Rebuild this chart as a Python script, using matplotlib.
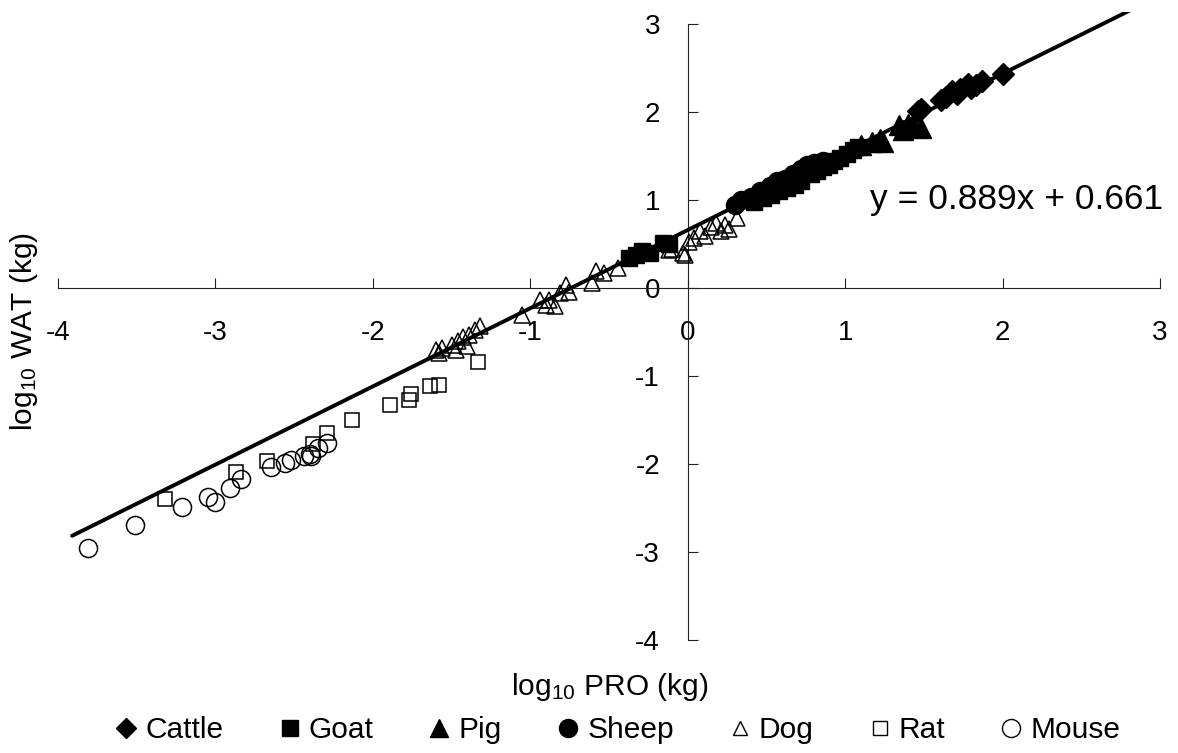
import matplotlib
matplotlib.use('Agg')
import matplotlib.pyplot as plt
from matplotlib.lines import Line2D

plt.rcParams['font.family'] = ['Liberation Sans', 'DejaVu Sans']
plt.rcParams['mathtext.fontset'] = 'custom'
plt.rcParams['mathtext.rm'] = 'Liberation Sans'
plt.rcParams['mathtext.default'] = 'regular'

# ---------------- data (log10 PRO, log10 WAT) ----------------
cattle_x = [1.46, 1.48, 1.61, 1.64, 1.68, 1.71, 1.73, 1.78, 1.80, 1.83, 1.87, 2.00]
cattle_y = [2.01, 2.04, 2.14, 2.17, 2.24, 2.21, 2.26, 2.32, 2.28, 2.31, 2.35, 2.43]

goat_x = [-0.37, -0.33, -0.29, -0.24, -0.16, -0.12,
          0.42, 0.48, 0.53, 0.58, 0.63, 0.68, 0.72, 0.78, 0.82, 0.86, 0.90, 0.93,
          0.97, 1.01, 1.05, 1.08]
goat_y = [0.34, 0.38, 0.42, 0.40, 0.51, 0.50,
          0.98, 1.03, 1.06, 1.10, 1.14, 1.17, 1.22, 1.30, 1.33, 1.38, 1.40, 1.45,
          1.48, 1.52, 1.57, 1.60]

pig_x = [1.10, 1.17, 1.22, 1.24, 1.34, 1.37, 1.40, 1.44, 1.48]
pig_y = [1.63, 1.66, 1.70, 1.66, 1.85, 1.80, 1.87, 1.83, 1.82]

sheep_x = [0.30, 0.34, 0.40, 0.46, 0.52, 0.57, 0.62, 0.67, 0.72, 0.76, 0.80, 0.86]
sheep_y = [0.95, 1.00, 1.04, 1.10, 1.16, 1.22, 1.24, 1.30, 1.36, 1.40, 1.42, 1.45]

dog_x = [-1.60, -1.58, -1.56, -1.50, -1.47, -1.46, -1.43, -1.40, -1.39, -1.35, -1.32,
         -1.05, -0.94, -0.90, -0.88, -0.84, -0.81, -0.775, -0.755, -0.61, -0.585, -0.53, -0.44,
         -0.12, -0.10, -0.03, -0.02, 0.01, 0.04, 0.08, 0.11, 0.15, 0.18, 0.21, 0.24, 0.26, 0.315]
dog_y = [-0.70, -0.74, -0.68, -0.65, -0.70, -0.60, -0.55, -0.66, -0.53, -0.47, -0.43,
         -0.30, -0.13, -0.19, -0.13, -0.20, -0.05, 0.04, -0.04, 0.06, 0.19, 0.17, 0.23,
         0.43, 0.44, 0.40, 0.38, 0.52, 0.57, 0.65, 0.59, 0.69, 0.74, 0.65, 0.72, 0.67, 0.80]

rat_x = [-3.32, -2.87, -2.67, -2.38, -2.29, -2.13, -1.89, -1.77, -1.76, -1.64, -1.58, -1.33]
rat_y = [-2.40, -2.09, -1.97, -1.77, -1.65, -1.50, -1.33, -1.27, -1.20, -1.11, -1.10, -0.84]

mouse_x = [-3.81, -3.51, -3.21, -3.05, -3.00, -2.91, -2.84, -2.645, -2.56, -2.52,
           -2.44, -2.40, -2.39, -2.35, -2.29]
mouse_y = [-2.95, -2.69, -2.49, -2.37, -2.43, -2.27, -2.17, -2.03, -1.99, -1.95,
           -1.91, -1.88, -1.91, -1.82, -1.76]

slope = 0.889
intercept = 0.661
fit_x = [-3.91, 2.90]
equation_label = 'y = 0.889x + 0.661'

x_ticks = [-4, -3, -2, -1, 0, 1, 2, 3]
y_ticks = [-4, -3, -2, -1, 0, 1, 2, 3]
x_label = 'log$_{10}$ PRO (kg)'
y_label = 'log$_{10}$ WAT (kg)'

# ---------------- figure ----------------
W, H = 1178, 753
fig = plt.figure(figsize=(W / 100, H / 100), dpi=100)
ax = fig.add_axes([58 / W, (H - 640) / H, 1102 / W, (640 - 12) / H])
ax.set_xlim(-4, 3)
ax.set_ylim(-4, 3.14)

for s in ['top', 'right']:
    ax.spines[s].set_visible(False)
ax.spines['left'].set_position(('data', 0))
ax.spines['bottom'].set_position(('data', 0))
ax.spines['left'].set_bounds(-4, 3)
ax.spines['bottom'].set_bounds(-4, 3)
for s in ['left', 'bottom']:
    ax.spines[s].set_linewidth(0.8)
    ax.spines[s].set_color('#222222')

ax.set_xticks(x_ticks)
ax.set_yticks(y_ticks)
ax.set_xticklabels([str(t) for t in x_ticks])
ax.set_yticklabels([str(t) for t in y_ticks])
ax.tick_params(axis='both', direction='in', length=7, width=0.8, color='#222222',
               labelsize=20)
ax.tick_params(axis='x', pad=23)
ax.tick_params(axis='y', pad=20)

lw_open = 1.1
ax.plot(cattle_x, cattle_y, ls='none', marker='D', ms=11, mfc='black', mec='black', zorder=3)
ax.plot(goat_x, goat_y, ls='none', marker='s', ms=11, mfc='black', mec='black', zorder=3)
ax.plot(pig_x, pig_y, ls='none', marker='^', ms=14, mfc='black', mec='black', zorder=3)
ax.plot(sheep_x, sheep_y, ls='none', marker='o', ms=13, mfc='black', mec='black', zorder=3)
ax.plot(dog_x, dog_y, ls='none', marker='^', ms=12, mfc='none', mec='black', mew=lw_open, zorder=3)
ax.plot(rat_x, rat_y, ls='none', marker='s', ms=10, mfc='none', mec='black', mew=lw_open, zorder=3)
ax.plot(mouse_x, mouse_y, ls='none', marker='o', ms=13, mfc='none', mec='black', mew=lw_open, zorder=3)

fit_y = [slope * v + intercept for v in fit_x]
ax.plot(fit_x, fit_y, color='black', lw=2.8, solid_capstyle='round', zorder=4)

fig.text(870 / W, 1 - 200 / H, equation_label, fontsize=25.5, ha='left', va='center')

fig.text(610 / W, 1 - 695 / H, x_label, fontsize=21.5, ha='center', va='baseline')
fig.text(24.5 / W, 1 - 332 / H, y_label, fontsize=21.5, ha='center', va='center',
         rotation=90)

handles = [
    Line2D([], [], ls='none', marker='D', ms=10, mfc='black', mec='black', label='Cattle'),
    Line2D([], [], ls='none', marker='s', ms=12, mfc='black', mec='black', label='Goat'),
    Line2D([], [], ls='none', marker='^', ms=13, mfc='black', mec='black', label='Pig'),
    Line2D([], [], ls='none', marker='o', ms=13, mfc='black', mec='black', label='Sheep'),
    Line2D([], [], ls='none', marker='^', ms=10, mfc='none', mec='black', mew=1.0, label='Dog'),
    Line2D([], [], ls='none', marker='s', ms=10, mfc='none', mec='black', mew=1.0, label='Rat'),
    Line2D([], [], ls='none', marker='o', ms=13, mfc='none', mec='black', mew=1.0, label='Mouse'),
]
fig.legend(handles=handles, loc='center', bbox_to_anchor=(619 / W, 1 - 730 / H), ncol=7,
           frameon=False, fontsize=21.5, handlelength=0.6, handletextpad=0.35,
           columnspacing=1.9, borderpad=0, borderaxespad=0)

fig.savefig('out.png', dpi=100)
